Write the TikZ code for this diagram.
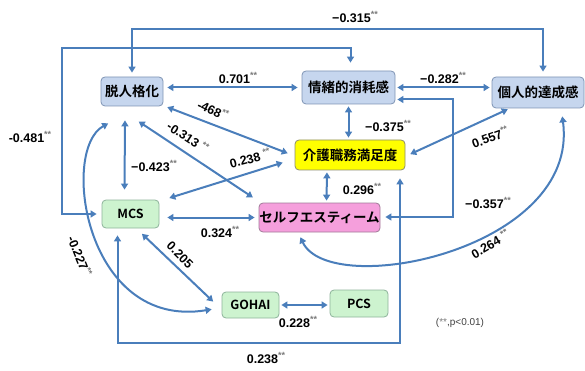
\documentclass[tikz,border=0pt]{standalone}
\usepackage{fontspec}
\setmainfont{Liberation Sans}
\newfontfamily\jp{Noto Sans CJK JP Bold}
\usetikzlibrary{arrows.meta}
\definecolor{linkblue}{HTML}{4A7EBB}
\definecolor{bluefill}{HTML}{C6D6EE}
\definecolor{blueedge}{HTML}{7F94B4}
\definecolor{yellowfill}{HTML}{FFFF00}
\definecolor{yellowedge}{HTML}{8C8C6E}
\definecolor{greenfill}{HTML}{CDF3CF}
\definecolor{greenedge}{HTML}{8DB39A}
\definecolor{pinkfill}{HTML}{F59FDC}
\definecolor{pinkedge}{HTML}{A07A98}
\definecolor{stargrey}{HTML}{7A7A7A}
\newcommand{\sig}{\raisebox{4.5pt}{\fontsize{9}{9}\selectfont\textcolor{stargrey}{**}}}

\begin{document}
\begin{tikzpicture}[x=1pt,y=-1pt,
  link/.style={linkblue,line width=2pt,{Triangle[length=6pt,width=7pt]}-{Triangle[length=6pt,width=7pt]},shorten <=2pt,shorten >=2pt},
  box/.style={rounded corners=4pt,line width=0.8pt,inner sep=0pt,font=\jp\fontsize{13.5}{15}\selectfont},
  bluebox/.style={box,draw=blueedge,fill=bluefill},
  yellowbox/.style={box,draw=yellowedge,fill=yellowfill},
  greenbox/.style={box,draw=greenedge,fill=greenfill,font=\jp\fontsize{12.5}{14}\selectfont},
  pinkbox/.style={box,draw=pinkedge,fill=pinkfill},
  val/.style={inner sep=0pt,font=\bfseries\fontsize{12.5}{14}\selectfont}]
\useasboundingbox (0,0) rectangle (585,371);

\node[bluebox,minimum width=62pt,minimum height=29pt] (dep) at (132,91.5) {脱人格化};
\node[bluebox,minimum width=93pt,minimum height=33pt] (emo) at (348.5,87.5) {情緒的消耗感};
\node[bluebox,minimum width=92pt,minimum height=31pt] (acc) at (538,92.5) {個人的達成感};
\node[yellowbox,minimum width=110pt,minimum height=30pt] (job) at (350,155) {介護職務満足度};
\node[greenbox,minimum width=57pt,minimum height=28pt] (mcs) at (130.5,214) {MCS};
\node[pinkbox,minimum width=121pt,minimum height=29pt] (est) at (319.5,217.5) {セルフエスティーム};
\node[greenbox,minimum width=57pt,minimum height=26pt] (goh) at (250.5,305) {GOHAI};
\node[greenbox,minimum width=58pt,minimum height=27pt] (pcs) at (359,303.5) {PCS};

\coordinate (k315) at (543,29);
\coordinate (k481) at (62,48);
\coordinate (k357) at (453,217);
\coordinate (k238) at (400,343);

% outer paths
\draw[link] ([yshift=2pt]dep.north) |- (k315) -- ([xshift=5pt,yshift=3pt]acc.north);
\draw[link] ([xshift=2pt,yshift=6pt]emo.north) |- (k481) |- ([xshift=-3pt]mcs.west);
\draw[link,shorten >=5pt] ([yshift=-12pt]emo.east) -| (k357) -- (est.east |- k357);
\draw[link,shorten >=8pt] ([xshift=-13pt,yshift=-5pt]mcs.south) |- (k238) -- (k238 |- job.south);

% straight links
\draw[link,shorten <=4pt,shorten >=4pt] (dep.east |- emo.west) -- (emo.west);
\draw[link] (emo.east) -- (emo.east -| acc.west);
\draw[link] (emo.south) -- (emo.south |- job.north);
\draw[link] ([xshift=2pt]dep.south east) -- ([xshift=-5pt,yshift=1pt]job.west);
\draw[link] ([xshift=5pt,yshift=-14pt]dep.south) -- ([xshift=-4pt,yshift=4pt]est.north west);
\draw[link] ([xshift=-7pt,yshift=-12pt]dep.south) -- ([xshift=-6pt,yshift=8pt]mcs.north);
\draw[link] ([xshift=8pt,yshift=1pt]mcs.north east) -- ([xshift=-10pt,yshift=-7pt]job.west);
\draw[link,shorten <=8pt,shorten >=4pt] (mcs.east |- est.west) -- (est.west);
\draw[link] ([xshift=7pt]est.north) -- ([xshift=-23pt]job.south);
\draw[link] ([xshift=18pt]acc.south west) -- ([xshift=3pt]job.east);
\draw[link] ([xshift=10pt,yshift=-4pt]mcs.south) -- ([xshift=-7pt,yshift=2pt]goh.west);
\draw[link] (goh.east) -- (goh.east -| pcs.west);

% curves
\draw[link] ([xshift=-22pt,yshift=-16pt]dep.south) .. controls (60,150) and (85,330) .. ([xshift=-8pt,yshift=-4pt]goh.west);
\draw[link] ([xshift=-20pt,yshift=-3pt]est.south) .. controls (330,300) and (580,250) .. ([xshift=24pt,yshift=-6pt]acc.south);

% values
\node[val] (v315) at (355,17) {−0.315\sig};
\node[val] (v481) at (30,137) {-0.481\sig};
\node[val] (v701) at (238,78) {0.701\sig};
\node[val] (v282) at (443,78) {−0.282\sig};
\node[val] (v375) at (388,126) {−0.375\sig};
\node[val,rotate=20] (v557) at (490,137) {0.557\sig};
\node[val,rotate=-25] (v468) at (213,110) {-468\sig};
\node[val,rotate=-33] (v313) at (188,137) {-0.313 \sig};
\node[val] (v423) at (154,166) {−0.423\sig};
\node[val,rotate=15] (v238a) at (250,158) {0.238 \sig};
\node[val] (v296) at (362,189) {0.296\sig};
\node[val] (v324) at (220,232) {0.324\sig};
\node[val] (v357) at (488,203) {−0.357\sig};
\node[val,rotate=30] (v264) at (490,244) {0.264 \sig};
\node[val,rotate=-45] (v205) at (180,255) {0.205};
\node[val,rotate=-68] (v227) at (80,256) {-0.227\sig};
\node[val] (v228) at (298,322) {0.228\sig};
\node[val] (v238b) at (266,358) {0.238\sig};
\node[inner sep=0pt,font=\fontsize{10}{12}\selectfont,text=black!75] (note) at (460,323) {(\textcolor{stargrey}{**},p<0.01)};
\end{tikzpicture}
\end{document}
